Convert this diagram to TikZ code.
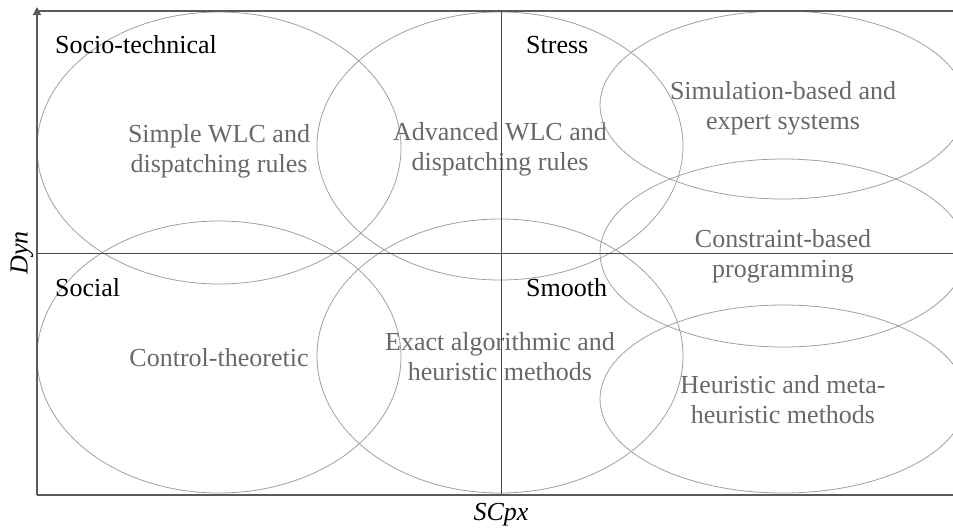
\documentclass[tikz,border=0pt]{standalone}
\usepackage{fontspec}
\setmainfont{Liberation Serif}
\usetikzlibrary{shapes.geometric,arrows.meta}
\definecolor{framegray}{HTML}{5A5A5A}
\definecolor{ellgray}{HTML}{A0A0A0}
\definecolor{txtgray}{HTML}{686868}
\begin{document}
\begin{tikzpicture}[x=1pt,y=-1pt,
  region/.style={ellipse, draw=ellgray, line width=0.8pt, text=txtgray, align=center,
    inner sep=0pt, text depth=0pt, font=\fontsize{26}{30}\selectfont},
  bigreg/.style={region, minimum width=364pt, minimum height=272pt},
  smallreg/.style={region, minimum width=366pt, minimum height=188pt},
  cat/.style={anchor=base west, text=black, inner sep=0pt, font=\fontsize{26}{30}\selectfont},
  axisline/.style={draw=framegray, line width=1.2pt},
  midline/.style={draw=black!72, line width=0.9pt},
  axlabel/.style={inner sep=0pt, font=\fontsize{26}{30}\selectfont\itshape}]
\useasboundingbox (0,0) rectangle (953,528);
\clip (0,0) rectangle (953,528);
% regions
\node[bigreg] (e1) at (219,148) {Simple WLC and\\dispatching rules};
\node[bigreg] (e2) at (219,357) {Control-theoretic};
\node[bigreg, minimum width=366pt, minimum height=268pt] (e3) at (500,146) {Advanced WLC and\\dispatching rules};
\node[bigreg, minimum width=366pt, minimum height=274pt] (e4) at (500,356) {Exact algorithmic and\\heuristic methods};
\node[smallreg] (e5) at (783,105) {Simulation-based and\\expert systems};
\node[smallreg] (e6) at (783,253) {Constraint-based\\programming};
\node[smallreg] (e7) at (783,399) {Heuristic and meta-\\heuristic methods};
% frame
\coordinate (o) at (37,495);
\coordinate (ytop) at (37,7);
\coordinate (tl) at (37,11);
\coordinate (tr) at (953,11);
\coordinate (br) at (953,495);
\draw[axisline] (tl) -- (tr);
\draw[axisline] (o) -- (br);
\draw[axisline, -{Triangle[length=8pt,width=8pt]}] (o) -- (ytop);
% middle axes
\coordinate (ml) at (37,253);
\coordinate (mr) at (953,253);
\coordinate (mt) at (501,11);
\coordinate (mb) at (501,495);
\draw[midline] (ml) -- (mr);
\draw[midline] (mt) -- (mb);
% category labels
\node[cat] (c1) at (55,53) {Socio-technical};
\node[cat] (c2) at (526,53) {Stress};
\node[cat] (c3) at (55,296) {Social};
\node[cat] (c4) at (526,296) {Smooth};
% axis labels
\node[axlabel, anchor=base] (xl) at (501,520) {SCpx};
\node[axlabel, rotate=90] (yl) at (22,253) {Dyn};
\end{tikzpicture}
\end{document}
